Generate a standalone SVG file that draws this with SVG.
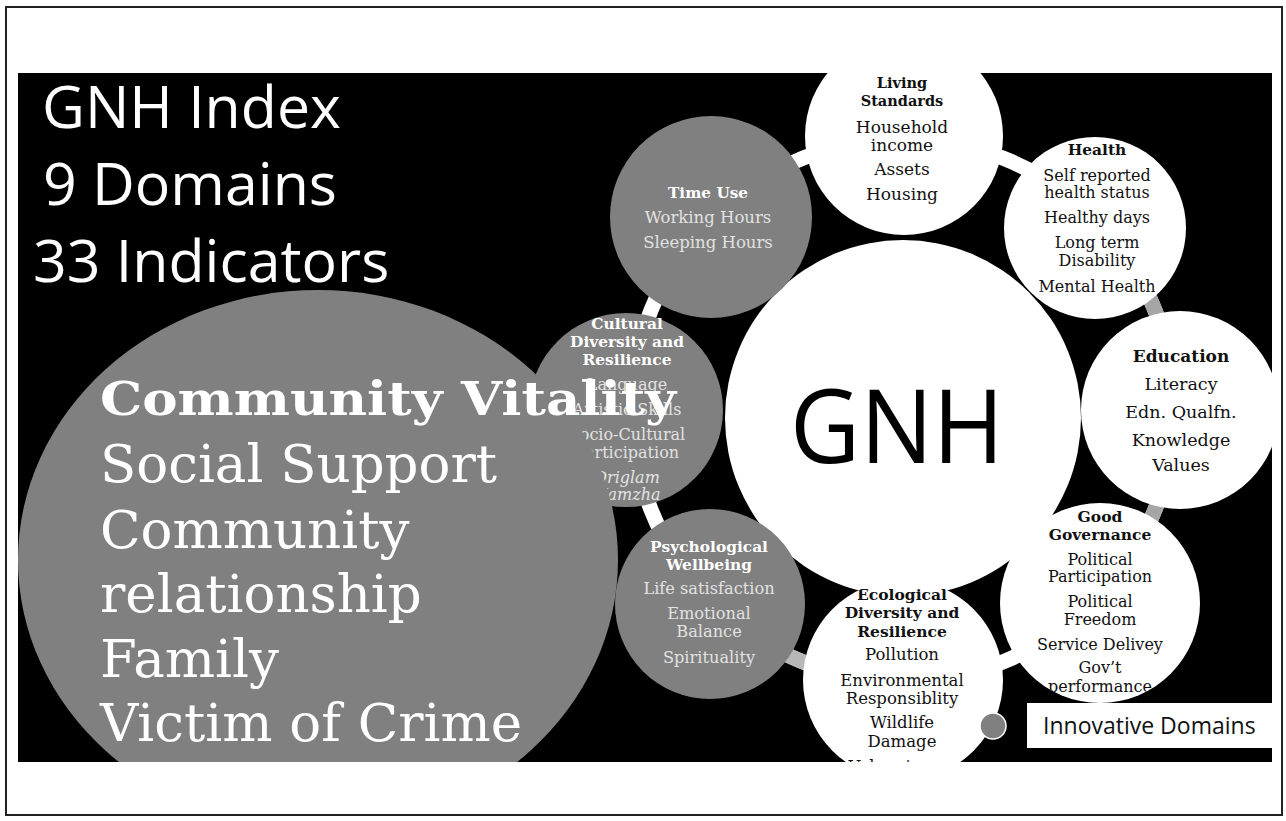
<svg xmlns="http://www.w3.org/2000/svg" width="1286" height="821" viewBox="0 0 1286 821">
<style>
.sw{fill:#ffffff}
.sg{fill:#808080}
.t{font-family:'DejaVu Serif','Liberation Serif',serif;text-anchor:middle}
.b{font-weight:bold}
.dk{fill:#111111}
.lt{fill:#e2e2e2}
.wh{fill:#ffffff}
.sans{font-family:'Open Sans','Liberation Sans',sans-serif}
.big{font-family:'DejaVu Serif','Liberation Serif',serif;fill:#ffffff}
</style>
<defs>
<clipPath id="panel"><rect x="18" y="73" width="1254" height="689"/></clipPath>
<clipPath id="c-gg"><circle cx="1100" cy="603" r="100"/></clipPath>
<clipPath id="c-eco"><circle cx="903" cy="680" r="100"/></clipPath>
</defs>
<rect x="6" y="7" width="1276" height="808" fill="#ffffff" stroke="#222222" stroke-width="2"/>
<rect x="18" y="73" width="1254" height="689" fill="#000000"/>
<g clip-path="url(#panel)">
<g id="connectors" fill="none" stroke-width="15">
<circle cx="903" cy="410" r="271" stroke="#ffffff"/>
<path d="M1125 254.6 A271 271 0 0 1 1169 358.3" stroke="#a6a6a6"/>
<path d="M1169.9 457 A271 271 0 0 1 1127.7 561.5" stroke="#a6a6a6"/>
<path d="M856 676.9 A271 271 0 0 1 751.5 634.7" stroke="#b8b8b8"/>
</g>
<g id="gnh">
<circle class="sw" cx="903" cy="418" r="178"/>
<text class="sans" x="897" y="463" font-size="102" textLength="214" lengthAdjust="spacingAndGlyphs" text-anchor="middle" fill="#000000">GNH</text>
</g>
<g id="living-standards">
<circle class="sw" cx="904" cy="136" r="99"/>
<g class="t dk">
<text class="b" x="902" y="88" font-size="14.5">Living</text>
<text class="b" x="902" y="106" font-size="14.5">Standards</text>
<text x="902" y="133" font-size="17">Household</text>
<text x="902" y="151" font-size="17">income</text>
<text x="902" y="175" font-size="17">Assets</text>
<text x="902" y="200" font-size="17">Housing</text>
</g>
</g>
<g id="health">
<circle class="sw" cx="1095" cy="228" r="91"/>
<g class="t dk">
<text class="b" x="1097" y="155" font-size="15.4">Health</text>
<text x="1097" y="181" font-size="16">Self reported</text>
<text x="1097" y="198" font-size="16">health status</text>
<text x="1097" y="223" font-size="16">Healthy days</text>
<text x="1097" y="248" font-size="16">Long term</text>
<text x="1097" y="266" font-size="16">Disability</text>
<text x="1097" y="292" font-size="16">Mental Health</text>
</g>
</g>
<g id="education">
<circle class="sw" cx="1180" cy="410" r="99"/>
<g class="t dk">
<text class="b" x="1181" y="362" font-size="17">Education</text>
<text x="1181" y="390" font-size="17.5">Literacy</text>
<text x="1181" y="418" font-size="17.5">Edn. Qualfn.</text>
<text x="1181" y="446" font-size="17.5">Knowledge</text>
<text x="1181" y="471" font-size="17.5">Values</text>
</g>
</g>
<g id="good-governance">
<circle class="sw" cx="1100" cy="603" r="100"/>
<g class="t dk" clip-path="url(#c-gg)">
<text class="b" x="1100" y="522" font-size="15.5">Good</text>
<text class="b" x="1100" y="540" font-size="15.5">Governance</text>
<text x="1100" y="565" font-size="16">Political</text>
<text x="1100" y="582" font-size="16">Participation</text>
<text x="1100" y="607" font-size="16">Political</text>
<text x="1100" y="625" font-size="16">Freedom</text>
<text x="1100" y="650" font-size="16">Service Delivey</text>
<text x="1100" y="673" font-size="16">Gov’t</text>
<text x="1100" y="692" font-size="16">performance</text>
</g>
</g>
<g id="ecological">
<circle class="sw" cx="903" cy="680" r="100"/>
<g class="t dk" clip-path="url(#c-eco)">
<text class="b" x="902" y="600" font-size="15.5">Ecological</text>
<text class="b" x="902" y="618" font-size="15.5">Diversity and</text>
<text class="b" x="902" y="637" font-size="15.5">Resilience</text>
<text x="902" y="660" font-size="16.5">Pollution</text>
<text x="902" y="686" font-size="16.5">Environmental</text>
<text x="902" y="704" font-size="16.5">Responsiblity</text>
<text x="902" y="728" font-size="16.5">Wildlife</text>
<text x="902" y="747" font-size="16.5">Damage</text>
<text x="902" y="772" font-size="16.5">Urban issues</text>
</g>
</g>
<g id="psychological-wellbeing">
<circle class="sg" cx="710" cy="604" r="95"/>
<g class="t">
<text class="b wh" x="709" y="552" font-size="15.4">Psychological</text>
<text class="b wh" x="709" y="570" font-size="15.4">Wellbeing</text>
<text class="lt" x="709" y="594" font-size="16.2">Life satisfaction</text>
<text class="lt" x="709" y="619" font-size="16.2">Emotional</text>
<text class="lt" x="709" y="637" font-size="16.2">Balance</text>
<text class="lt" x="709" y="663" font-size="16.2">Spirituality</text>
</g>
</g>
<g id="time-use">
<circle class="sg" cx="711" cy="217" r="101"/>
<g class="t">
<text class="b wh" x="708" y="198" font-size="15.3">Time Use</text>
<text class="lt" x="708" y="223" font-size="16.5">Working Hours</text>
<text class="lt" x="708" y="248" font-size="16.5">Sleeping Hours</text>
</g>
</g>
<g id="cultural-diversity">
<circle class="sg" cx="626" cy="410" r="97"/>
<g class="t">
<text class="b wh" x="627" y="329" font-size="15.4">Cultural</text>
<text class="b wh" x="627" y="347" font-size="15.4">Diversity and</text>
<text class="b wh" x="627" y="365" font-size="15.4">Resilience</text>
<text class="lt" x="627" y="390" font-size="16">Language</text>
<text class="lt" x="627" y="415" font-size="16">Artistic Skills</text>
<text class="lt" x="627" y="440" font-size="16">Socio-Cultural</text>
<text class="lt" x="627" y="458" font-size="16">Participation</text>
<text class="lt" x="627" y="483" font-size="16" font-style="italic">Driglam</text>
<text class="lt" x="627" y="500" font-size="16" font-style="italic">Namzha</text>
</g>
</g>
<g id="community-vitality">
<ellipse class="sg" cx="318" cy="560" rx="300" ry="270"/>
<text class="big" x="100" y="415" font-size="46" font-weight="bold" textLength="576" lengthAdjust="spacingAndGlyphs">Community Vitality</text>
<text class="big" x="100" y="482" font-size="53">Social Support</text>
<text class="big" x="100" y="548" font-size="53">Community</text>
<text class="big" x="100" y="612" font-size="53">relationship</text>
<text class="big" x="100" y="677" font-size="53">Family</text>
<text class="big" x="100" y="741" font-size="53">Victim of Crime</text>
</g>
<g id="title" class="sans" fill="#ffffff" font-size="59">
<text x="42" y="128">GNH Index</text>
<text x="43" y="205">9 Domains</text>
<text x="33" y="282">33 Indicators</text>
</g>
<g id="legend">
<circle cx="993" cy="726" r="13" fill="#808080" stroke="#ffffff" stroke-width="1.5"/>
<rect x="1027" y="703" width="245" height="45" fill="#ffffff"/>
<text class="sans" x="1043" y="734" font-size="23" fill="#111111">Innovative Domains</text>
</g>
</g>
</svg>
